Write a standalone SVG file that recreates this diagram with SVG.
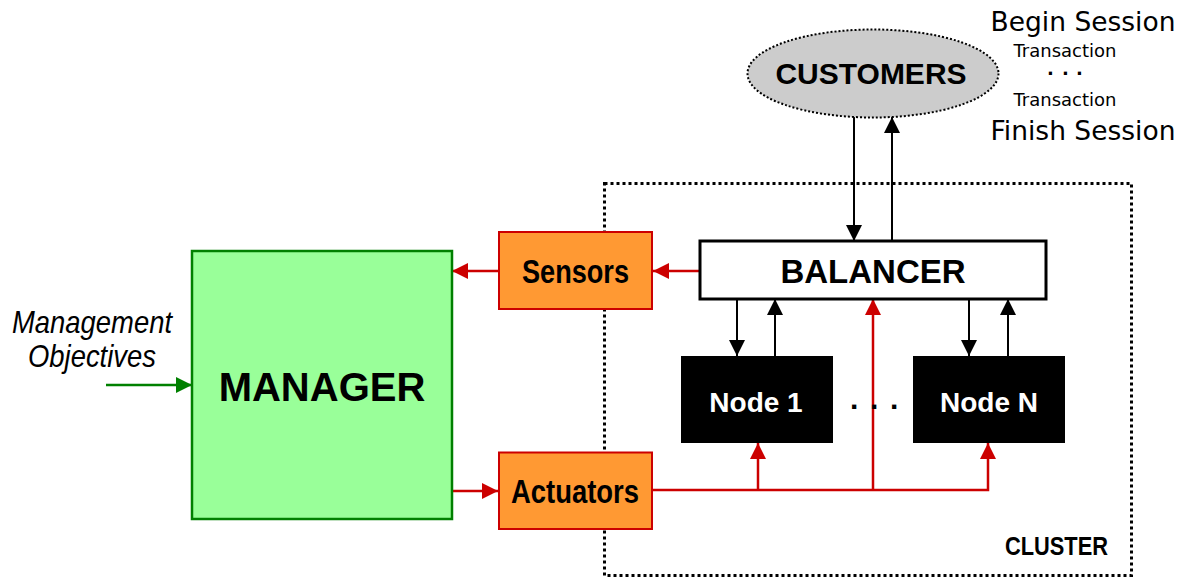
<svg xmlns="http://www.w3.org/2000/svg" width="1193" height="578" viewBox="0 0 1193 578">
<style>
.b{font-family:"Liberation Sans",Arial,sans-serif;font-weight:bold;}
.t{font-family:"DejaVu Sans",Tahoma,sans-serif;}
.blk{stroke:#000;stroke-width:2;fill:none;}
.red{stroke:#CC0000;stroke-width:2.5;fill:none;}
</style>
<defs>
<marker id="ab" markerUnits="userSpaceOnUse" markerWidth="16" markerHeight="16" refX="16" refY="8" orient="auto"><path d="M0,0 L16,8 L0,16 z" fill="#000"/></marker>
<marker id="ar" markerUnits="userSpaceOnUse" markerWidth="16" markerHeight="16" refX="16" refY="8" orient="auto"><path d="M0,0 L16,8 L0,16 z" fill="#CC0000"/></marker>
<marker id="ag" markerUnits="userSpaceOnUse" markerWidth="16" markerHeight="16" refX="16" refY="8" orient="auto"><path d="M0,0 L16,8 L0,16 z" fill="#008000"/></marker>
</defs>
<rect width="1193" height="578" fill="#fff"/>
<g id="cluster">
<rect x="604.5" y="183.5" width="527" height="392" fill="none" stroke="#000" stroke-width="3" stroke-dasharray="3 3"/>
</g>
<g id="connectors">
<line class="blk" x1="854" y1="117" x2="854" y2="241" marker-end="url(#ab)"/>
<line class="blk" x1="892" y1="241" x2="892" y2="117" marker-end="url(#ab)"/>
<line class="blk" x1="737" y1="299" x2="737" y2="356" marker-end="url(#ab)"/>
<line class="blk" x1="775" y1="356" x2="775" y2="299" marker-end="url(#ab)"/>
<line class="blk" x1="969" y1="299" x2="969" y2="356" marker-end="url(#ab)"/>
<line class="blk" x1="1008" y1="356" x2="1008" y2="299" marker-end="url(#ab)"/>
<line class="red" x1="700" y1="271" x2="653" y2="271" marker-end="url(#ar)"/>
<line class="red" x1="499" y1="271" x2="452" y2="271" marker-end="url(#ar)"/>
<line class="red" x1="452" y1="491" x2="498" y2="491" marker-end="url(#ar)"/>
<polyline class="red" points="653,490 988,490 988,443" marker-end="url(#ar)"/>
<line class="red" x1="758" y1="490" x2="758" y2="443" marker-end="url(#ar)"/>
<line class="red" x1="873" y1="490" x2="873" y2="299" marker-end="url(#ar)"/>
<line x1="106" y1="385" x2="192" y2="385" stroke="#008000" stroke-width="2.5" marker-end="url(#ag)"/>
</g>
<g id="customers">
<ellipse cx="873" cy="73.5" rx="125.5" ry="44" fill="#CCCCCC" stroke="#000" stroke-width="2" stroke-dasharray="2 2"/>
<text class="b" x="871" y="84" font-size="30" text-anchor="middle">CUSTOMERS</text>
</g>
<g id="session">
<text class="t" x="1083" y="31" font-size="26.5" text-anchor="middle">Begin Session</text>
<text class="t" x="1065" y="57" font-size="18" text-anchor="middle">Transaction</text>
<text class="t" x="1047 1055 1062 1070 1076" y="80" font-size="18" font-weight="bold">· · ·</text>
<text class="t" x="1065" y="106" font-size="18" text-anchor="middle">Transaction</text>
<text class="t" x="1083" y="140" font-size="26.5" text-anchor="middle">Finish Session</text>
</g>
<g id="manager">
<rect x="192" y="251" width="260" height="268" fill="#99FF99" stroke="#008000" stroke-width="2.5"/>
<text class="b" x="322" y="401" font-size="40" text-anchor="middle">MANAGER</text>
</g>
<g id="objectives">
<text x="12" y="333" font-family="Liberation Sans,Arial,sans-serif" font-style="italic" font-size="32" textLength="160" lengthAdjust="spacingAndGlyphs">Management</text>
<text x="28" y="367" font-family="Liberation Sans,Arial,sans-serif" font-style="italic" font-size="32" textLength="128" lengthAdjust="spacingAndGlyphs">Objectives</text>
</g>
<g id="sensors">
<rect x="499" y="232" width="153" height="77" fill="#FF9933" stroke="#CC0000" stroke-width="2"/>
<text class="b" x="522" y="283" font-size="34" textLength="107" lengthAdjust="spacingAndGlyphs">Sensors</text>
</g>
<g id="actuators">
<rect x="499" y="452.5" width="153" height="76.5" fill="#FF9933" stroke="#CC0000" stroke-width="2"/>
<text class="b" x="511" y="503" font-size="34" textLength="128" lengthAdjust="spacingAndGlyphs">Actuators</text>
</g>
<g id="balancer">
<rect x="700" y="241" width="346" height="58" fill="#fff" stroke="#000" stroke-width="3"/>
<text class="b" x="873" y="283" font-size="33" text-anchor="middle">BALANCER</text>
</g>
<g id="node1">
<rect x="681" y="356" width="152" height="87" fill="#000"/>
<text class="b" x="756" y="412" font-size="28" fill="#fff" text-anchor="middle">Node 1</text>
</g>
<g id="nodeN">
<rect x="913" y="356" width="152" height="87" fill="#000"/>
<text class="b" x="989" y="412" font-size="28" fill="#fff" text-anchor="middle">Node N</text>
</g>
<text class="b" x="850 860 870 880 890" y="409" font-size="30">. . .</text>
<text class="b" x="1005" y="555" font-size="26" textLength="103" lengthAdjust="spacingAndGlyphs">CLUSTER</text>
</svg>
